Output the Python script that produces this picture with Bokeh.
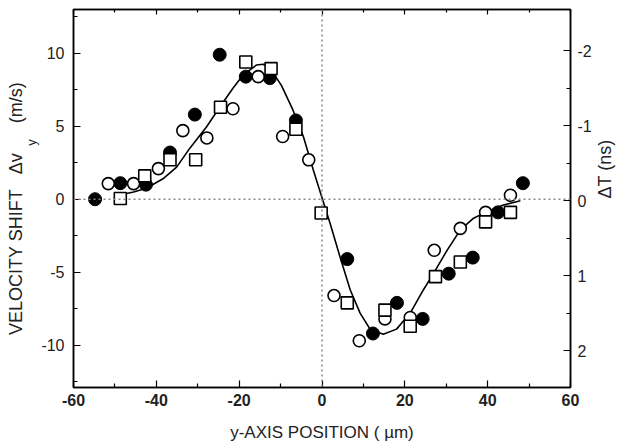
import math

from bokeh.embed import file_html
from bokeh.models import ColumnDataSource, FixedTicker, LinearAxis, Range1d, Span
from bokeh.plotting import figure
from bokeh.resources import INLINE

# Measured velocity shift (m/s) against y-axis position (um), three data sets
filled_x = [-54.8, -48.7, -42.5, -36.7, -30.7, -24.7, -18.4, -12.6, -6.3,
            6.1, 12.3, 18.1, 24.3, 30.6, 36.4, 42.5, 48.5]
filled_v = [0.0, 1.1, 1.0, 3.2, 5.8, 9.9, 8.4, 8.3, 5.4,
            -4.1, -9.2, -7.1, -8.2, -5.1, -4.0, -0.9, 1.1]

open_x = [-51.6, -45.5, -39.5, -33.6, -27.8, -21.5, -15.4, -9.5, -3.2,
          2.9, 9.0, 15.2, 21.3, 27.1, 33.4, 39.5, 45.5]
open_v = [1.07, 1.07, 2.1, 4.7, 4.2, 6.2, 8.4, 4.3, 2.7,
          -6.6, -9.7, -8.2, -8.1, -3.5, -2.0, -0.9, 0.27]

square_x = [-48.7, -42.8, -36.7, -30.5, -24.5, -18.4, -12.3, -6.3, -0.2,
            6.1, 15.2, 21.3, 27.4, 33.4, 39.5, 45.5]
square_v = [0.05, 1.6, 2.7, 2.7, 6.3, 9.4, 8.95, 4.8, -0.94,
            -7.1, -7.6, -8.7, -5.3, -4.3, -1.55, -0.9]

# Fitted curve through the data
fit_x = [-49.2, -45.5, -42.4, -38.4, -35.1, -31.9, -27.9, -24.7, -21.5, -19.1,
         -15.8, -14.2, -12.6, -9.8, -7.0, -4.5, -2.1, 0.0, 2.0, 4.4, 6.8, 9.2,
         11.6, 14.8, 18.0, 21.3, 24.5, 26.9, 30.2, 33.4, 36.6, 39.8, 43.8, 47.9]
fit_v = [0.27, 0.5, 0.75, 1.4, 2.2, 3.5, 4.95, 6.3, 7.6, 8.5,
         9.2, 9.25, 9.0, 7.8, 6.1, 4.3, 2.0, 0.1, -1.7, -4.0, -6.2, -7.8,
         -8.9, -9.25, -8.9, -7.8, -6.2, -5.1, -3.5, -2.1, -1.3, -0.85, -0.4, -0.1]

x_ticks = [-60, -40, -20, 0, 20, 40, 60]
x_minor = [-50, -30, -10, 10, 30, 50]
v_ticks = [-10, -5, 0, 5, 10]
v_minor = [-12.5, -7.5, -2.5, 2.5, 7.5, 12.5]
dt_ticks = [-2, -1, 0, 1, 2]
dt_minor = [-1.5, -0.5, 0.5, 1.5]

X_LIM = (-60, 60)
V_LIM = (-12.9, 13.0)
DT_LIM = (2.49, -2.55)  # flipped: positive delay downwards

FONT = "Liberation Sans"
TEXT = "#222222"
NB = "\u00a0"  # non-breaking space, keeps gaps inside axis titles

W, H = 627, 444
LEFT, RIGHT, TOP, BOTTOM = 73, 570, 9, 387

p = figure(width=W, height=H, x_range=Range1d(*X_LIM), y_range=Range1d(*V_LIM),
           output_backend="svg", toolbar_location=None,
           min_border_left=LEFT, min_border_right=W - RIGHT,
           min_border_top=TOP, min_border_bottom=H - BOTTOM)
p.grid.visible = False
p.outline_line_color = "black"
p.outline_line_width = 1.5
p.background_fill_color = "white"
p.border_fill_color = "white"
p.extra_y_ranges = {"dt": Range1d(*DT_LIM)}


def style_axis(ax, major, minor, size="16px", bold=False, standoff=7, show_labels=True):
    ax.ticker = FixedTicker(ticks=major, minor_ticks=minor)
    ax.axis_line_color = "black"
    ax.axis_line_width = 1.5
    ax.major_tick_in = 7
    ax.major_tick_out = 0
    ax.minor_tick_in = 4
    ax.minor_tick_out = 0
    ax.major_tick_line_color = "black"
    ax.minor_tick_line_color = "black"
    ax.major_tick_line_width = 1.2
    ax.minor_tick_line_width = 1.2
    ax.major_label_text_font = FONT
    ax.major_label_text_color = TEXT
    ax.major_label_text_font_style = "bold" if bold else "normal"
    ax.major_label_text_font_size = size
    ax.major_label_standoff = standoff if show_labels else 0
    # plain hyphen for negative numbers; blank labels where none are wanted
    ax.major_label_overrides = {t: (f"{t:g}" if show_labels else "") for t in major}


def title_axis(text, size, standoff, y_range_name="default"):
    """A bare axis that only carries a title."""
    return LinearAxis(y_range_name=y_range_name, ticker=FixedTicker(ticks=[]),
                      axis_line_color=None,
                      major_tick_line_color=None, minor_tick_line_color=None,
                      major_tick_in=0, major_tick_out=0, minor_tick_in=0, minor_tick_out=0,
                      axis_label=text, axis_label_text_font=FONT,
                      axis_label_text_font_size=size, axis_label_text_font_style="normal",
                      axis_label_text_color=TEXT, axis_label_standoff=standoff)


style_axis(p.xaxis[0], x_ticks, x_minor, bold=True, standoff=6)
p.xaxis[0].axis_label = "y-AXIS POSITION ( \u00b5m)"
p.xaxis[0].axis_label_text_font = FONT
p.xaxis[0].axis_label_text_font_size = "17px"
p.xaxis[0].axis_label_text_font_style = "normal"
p.xaxis[0].axis_label_text_color = TEXT
p.xaxis[0].axis_label_standoff = 14

style_axis(p.yaxis[0], v_ticks, v_minor, standoff=9)

top_axis = LinearAxis()
style_axis(top_axis, x_ticks, x_minor, show_labels=False)
top_axis.major_tick_in = 5
top_axis.minor_tick_in = 3
p.add_layout(top_axis, "above")

right_axis = LinearAxis(y_range_name="dt")
style_axis(right_axis, dt_ticks, dt_minor, standoff=7)
p.add_layout(right_axis, "right")

# Left title: subscript column first (padded so it sits beside "v"),
# then the main title column
p.add_layout(title_axis(NB * 31 + "y", "13px", 0), "left")
p.add_layout(title_axis("VELOCITY SHIFT" + NB * 3 + "\u0394v" + NB * 6 + "(m/s)" + NB * 4,
                        "18px", -5), "left")

# Right title, reading upwards
dt_title = title_axis("\u0394T (ns)" + NB * 4, "18px", 10, y_range_name="dt")
dt_title.axis_label_orientation = math.pi / 2
p.add_layout(dt_title, "right")

# Dotted zero lines
p.add_layout(Span(location=0, dimension="width", line_color="#888888",
                  line_dash="2 3", line_width=1.5))
p.add_layout(Span(location=0, dimension="height", line_color="#888888",
                  line_dash="2 3", line_width=1.5))

# Fit curve
p.line(fit_x, fit_v, line_color="black", line_width=1.6)

# Data points
p.scatter(x="x", y="v", source=ColumnDataSource(dict(x=filled_x, v=filled_v)),
          marker="circle", size=13, fill_color="black", line_color="black")
p.scatter(x="x", y="v", source=ColumnDataSource(dict(x=open_x, v=open_v)),
          marker="circle", size=12, fill_color="white", line_color="black",
          line_width=1.6)
p.scatter(x="x", y="v", source=ColumnDataSource(dict(x=square_x, v=square_v)),
          marker="square", size=12, fill_color="white", line_color="black",
          line_width=1.6)

open("out.html", "w").write(file_html(p, INLINE))
